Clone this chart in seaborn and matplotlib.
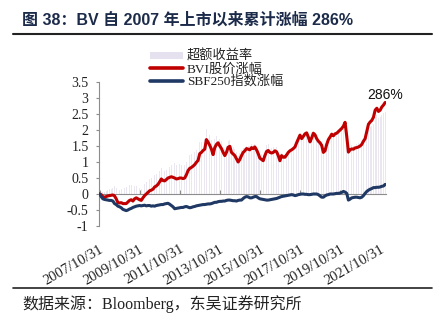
import numpy as np
import pandas as pd
import matplotlib
matplotlib.use("Agg")
import matplotlib.pyplot as plt
import seaborn as sns
from matplotlib.patches import Patch
from matplotlib.lines import Line2D

# ---------------- data (monthly, from 2007-10 to 2022-01) ----------------
start_month = "2007-10"

bvi = [
    # 2007 Oct-Dec
    0.00, -0.02, -0.08,
    # 2008
    -0.10, -0.08, -0.06, -0.05, -0.04, -0.03, -0.06, -0.15, -0.27, -0.28, -0.27, -0.30,
    # 2009
    -0.30, -0.30, -0.25, -0.20, -0.18, -0.22, -0.15, -0.12, -0.15, -0.18, -0.20, -0.12,
    # 2010
    -0.05, 0.00, 0.05, 0.10, 0.12, 0.15, 0.22, 0.25, 0.30, 0.38, 0.47, 0.42,
    # 2011
    0.41, 0.45, 0.50, 0.52, 0.54, 0.52, 0.50, 0.47, 0.48, 0.50, 0.50, 0.48,
    # 2012
    0.50, 0.60, 0.73, 0.80, 0.83, 0.87, 0.92, 0.99, 1.05, 1.26, 1.30, 1.36,
    # 2013
    1.40, 1.70, 1.62, 1.52, 1.40, 1.23, 1.45, 1.55, 1.60, 1.50, 1.42, 1.30,
    # 2014
    1.20, 1.30, 1.46, 1.49, 1.30, 1.25, 1.20, 1.10, 1.00, 1.08, 1.20, 1.30,
    # 2015
    1.35, 1.42, 1.40, 1.38, 1.45, 1.42, 1.47, 1.38, 1.26, 1.12, 1.08, 1.04,
    # 2016
    1.20, 1.33, 1.36, 1.30, 1.28, 1.30, 1.35, 1.32, 1.20, 1.04, 1.20, 1.15,
    # 2017
    1.15, 1.22, 1.30, 1.35, 1.38, 1.42, 1.47, 1.60, 1.72, 1.84, 1.73, 1.80,
    # 2018
    1.88, 1.91, 1.78, 1.63, 1.75, 1.90, 1.85, 1.73, 1.65, 1.60, 1.52, 1.30,
    # 2019
    1.35, 1.55, 1.70, 1.78, 1.87, 1.82, 1.88, 1.90, 1.95, 2.00, 2.05, 2.12,
    # 2020
    2.24, 1.80, 1.31, 1.38, 1.41, 1.40, 1.44, 1.45, 1.47, 1.50, 1.55, 1.65,
    # 2021
    1.73, 1.95, 2.18, 2.25, 2.30, 2.40, 2.62, 2.68, 2.58, 2.62, 2.72, 2.78,
    # 2022 Jan
    2.86,
]

sbf = [
    # 2007 Oct-Dec
    0.00, -0.08, -0.15,
    # 2008
    -0.17, -0.18, -0.19, -0.20, -0.20, -0.22, -0.30, -0.33, -0.38, -0.40, -0.43, -0.48,
    # 2009
    -0.50, -0.52, -0.50, -0.47, -0.45, -0.42, -0.40, -0.38, -0.37, -0.36, -0.37, -0.36,
    # 2010
    -0.35, -0.37, -0.36, -0.36, -0.38, -0.37, -0.38, -0.36, -0.35, -0.34, -0.33, -0.33,
    # 2011
    -0.31, -0.30, -0.29, -0.32, -0.36, -0.40, -0.46, -0.45, -0.44, -0.43, -0.42, -0.42,
    # 2012
    -0.40, -0.39, -0.41, -0.43, -0.42, -0.40, -0.39, -0.37, -0.36, -0.35, -0.34, -0.33,
    # 2013
    -0.33, -0.32, -0.31, -0.31, -0.30, -0.28, -0.26, -0.26, -0.24, -0.23, -0.23, -0.22,
    # 2014
    -0.22, -0.20, -0.19, -0.19, -0.20, -0.21, -0.21, -0.22, -0.20, -0.19, -0.19, -0.14,
    # 2015
    -0.10, -0.08, -0.09, -0.12, -0.12, -0.10, -0.08, -0.08, -0.12, -0.15, -0.16, -0.17,
    # 2016
    -0.18, -0.19, -0.19, -0.18, -0.17, -0.16, -0.15, -0.14, -0.12, -0.10, -0.08, -0.07,
    # 2017
    -0.06, -0.05, -0.04, -0.03, -0.02, -0.03, -0.05, -0.04, -0.02, -0.01, 0.00, 0.00,
    # 2018
    -0.01, -0.01, -0.02, -0.02, -0.01, 0.00, 0.00, 0.00, -0.02, -0.06, -0.10, -0.10,
    # 2019
    -0.06, -0.03, -0.02, 0.00, 0.00, 0.00, 0.01, 0.02, 0.02, 0.03, 0.05, 0.08,
    # 2020
    0.06, 0.02, -0.19, -0.16, -0.12, -0.11, -0.10, -0.10, -0.11, -0.12, -0.10, -0.05,
    # 2021
    0.02, 0.08, 0.12, 0.15, 0.17, 0.20, 0.20, 0.21, 0.21, 0.22, 0.24, 0.25,
    # 2022 Jan
    0.30,
]

tick_labels = ["2007/10/31", "2009/10/31", "2011/10/31", "2013/10/31",
               "2015/10/31", "2017/10/31", "2019/10/31", "2021/10/31"]
y_ticks = [-1, -0.5, 0, 0.5, 1, 1.5, 2, 2.5, 3, 3.5]

series_names = ["超额收益率", "BVI股价涨幅", "SBF250指数涨幅"]
title_text = "图 38：BV 自 2007 年上市以来累计涨幅 286%"
source_text = "数据来源：Bloomberg，东吴证券研究所"
end_label = "286%"

# ---------------- build table ----------------
months = pd.period_range(start_month, periods=len(bvi), freq="M")
df = pd.DataFrame({
    "idx": np.arange(len(bvi)),
    "date": [m.to_timestamp(how="end").strftime("%Y/%m/%d") for m in months],
    "bvi": bvi,
    "sbf": sbf,
})
df["excess"] = df["bvi"] - df["sbf"]

# ---------------- style ----------------
sns.set_theme(style="white")
plt.rcParams["font.family"] = ["Liberation Serif", "Noto Sans CJK SC", "DejaVu Sans"]
plt.rcParams["axes.unicode_minus"] = False

RED = "#c00000"
NAVY = "#1f3864"
BAR = "#ebe7f1"
GRAY = "#8c8c8c"

fig = plt.figure(figsize=(4.43, 3.24), dpi=100)
W, H = 443, 324
ax = fig.add_axes([99 / W, 1 - 226 / H, (386 - 99) / W, (226 - 82) / H])

ax.bar(df["idx"], df["excess"], width=0.45, color=BAR, linewidth=0, zorder=1)
sns.lineplot(data=df, x="idx", y="bvi", ax=ax, color=RED, linewidth=2.2, zorder=3)
sns.lineplot(data=df, x="idx", y="sbf", ax=ax, color=NAVY, linewidth=2.2, zorder=3)

ax.set_xlim(-0.3, len(bvi) - 0.5)
ax.set_ylim(-1, 3.5)
ax.set_xlabel("")
ax.set_ylabel("")

# axes decoration
for s in ["top", "right"]:
    ax.spines[s].set_visible(False)
ax.spines["left"].set_color(GRAY)
ax.spines["left"].set_linewidth(0.8)
ax.spines["bottom"].set_position(("data", 0))
ax.spines["bottom"].set_color(GRAY)
ax.spines["bottom"].set_linewidth(0.8)

ax.set_yticks(y_ticks)
ax.set_yticklabels([f"{v:g}" for v in y_ticks])
ax.tick_params(axis="y", direction="out", length=2.5, width=0.8, color=GRAY,
               pad=5, labelsize=10, labelcolor="#222222", left=True)

pos = [int(df.index[df["date"] == lab][0]) for lab in tick_labels]
ax.set_xticks(pos)
ax.set_xticklabels(tick_labels, rotation=30, ha="right", rotation_mode="anchor")
ax.tick_params(axis="x", direction="in", length=3, width=0.8, color=GRAY,
               pad=35, labelsize=10.5, labelcolor="#222222", bottom=True)

# end annotation
ax.annotate(end_label, xy=(df["idx"].iloc[-1], df["bvi"].iloc[-1]),
            xytext=(0, 0.5), textcoords="offset points", ha="center", va="bottom",
            fontsize=10, family=["Liberation Sans", "DejaVu Sans"], color="#111111",
            zorder=5)

# legend
handles = [
    Patch(facecolor="#e6e1ef", edgecolor="none"),
    Line2D([0], [0], color=RED, linewidth=2.6),
    Line2D([0], [0], color=NAVY, linewidth=2.6),
]
leg = fig.legend(handles, series_names, loc="upper left",
                 bbox_to_anchor=(150 / W, 1 - 50 / H), frameon=False,
                 borderpad=0, borderaxespad=0, handlelength=2.5, handleheight=0.5,
                 handletextpad=0.3, labelspacing=0.0,
                 prop={"family": ["Liberation Serif", "Noto Sans CJK SC"], "size": 9.5})
for t in leg.get_texts():
    t.set_color("#222222")

# title and rules
fig.text(22 / W, 1 - 20 / H, title_text, ha="left", va="center", fontsize=11.5,
         fontweight="bold", family=["Liberation Sans", "Noto Sans CJK SC"], color="#1c2b4a")
fig.add_artist(Line2D([13 / W, 432 / W], [1 - 33.5 / H, 1 - 33.5 / H],
                      color="#222222", linewidth=1.5))
fig.add_artist(Line2D([13 / W, 432 / W], [1 - 287.5 / H, 1 - 287.5 / H],
                      color="#222222", linewidth=1.2))
fig.text(22 / W, 1 - 304 / H, source_text, ha="left", va="center", fontsize=11.5,
         family=["Liberation Serif", "Noto Sans CJK SC"], color="#222222")

fig.savefig("out.png", dpi=100)
